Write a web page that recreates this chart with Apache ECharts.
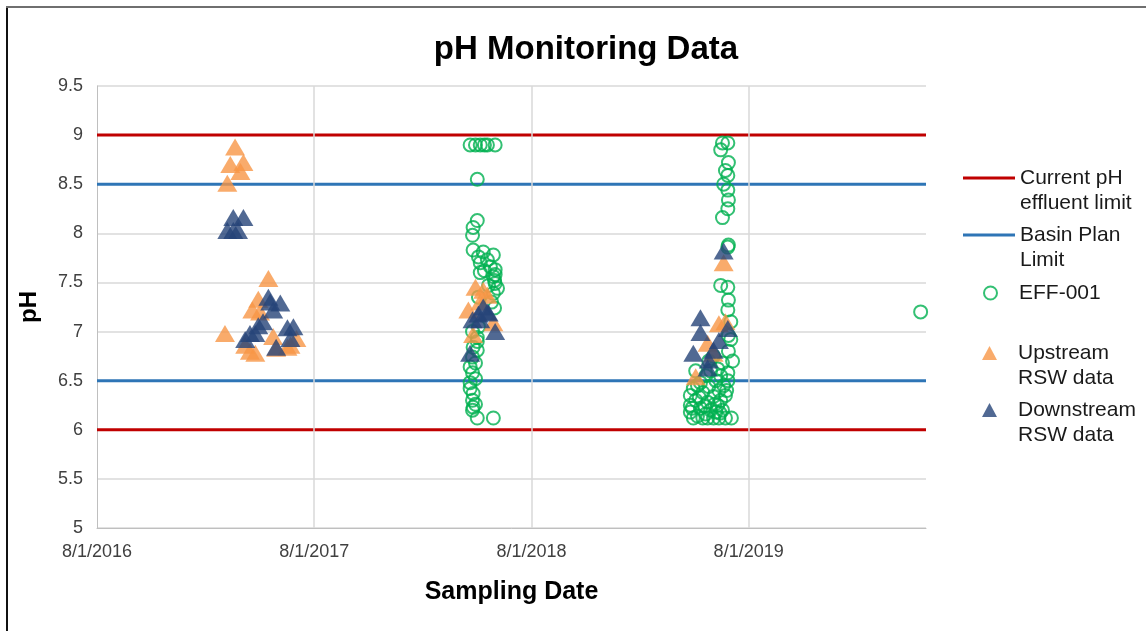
<!DOCTYPE html>
<html>
<head>
<meta charset="utf-8">
<script src="https://cdn.jsdelivr.net/npm/echarts@6/dist/echarts.min.js"></script>
<style>
html,body{margin:0;padding:0;background:#fff;}
#chart{width:1146px;height:631px;}
</style>
</head>
<body>
<div id="chart"></div>
<script>
// ---------- DATA ----------
const xMinDate = '2016-08-01';
const xMaxDate = '2020-05-25';
const xTickLabels = ['8/1/2016', '8/1/2017', '8/1/2018', '8/1/2019'];
const yMin = 5, yMax = 9.5, yStep = 0.5;

const effluentLimits = [9, 6];      // Current pH effluent limit
const basinPlanLimits = [8.5, 6.5]; // Basin Plan Limit

const effDates = [
  '2018-04-20','2018-04-29','2018-05-07','2018-05-14','2018-05-19','2018-06-01',
  '2018-05-02','2018-05-02','2018-04-25','2018-04-24','2018-04-25','2018-05-04',
  '2018-05-12','2018-05-29','2018-05-19','2018-05-07','2018-05-24','2018-06-01',
  '2018-05-14','2018-05-07','2018-06-01','2018-05-29','2018-05-31','2018-06-01',
  '2018-05-21','2018-06-05','2018-05-29','2018-05-04','2018-05-26','2018-05-31',
  '2018-05-04','2018-04-24','2018-05-02','2018-05-02','2018-04-25','2018-05-02',
  '2018-04-24','2018-04-29','2018-04-20','2018-04-24','2018-04-29','2018-04-20',
  '2018-04-20','2018-04-25','2018-04-24','2018-04-29','2018-04-25','2018-04-24',
  '2018-05-02','2018-05-29',
  '2019-06-18','2019-06-27','2019-06-15','2019-06-28','2019-06-23','2019-06-27',
  '2019-06-20','2019-06-27','2019-06-28','2019-06-27','2019-06-18','2019-06-28',
  '2019-06-27','2019-06-15','2019-06-27','2019-06-28','2019-06-27','2019-07-02',
  '2019-06-28','2019-07-02','2019-06-28','2019-07-05',
  '2019-04-25','2019-04-25','2019-04-25','2019-04-30','2019-04-30','2019-05-04',
  '2019-05-07','2019-05-12','2019-05-12','2019-05-16','2019-05-16','2019-05-21',
  '2019-05-21','2019-05-24','2019-05-24','2019-05-26','2019-05-29','2019-05-29',
  '2019-06-03','2019-06-03','2019-06-07','2019-06-07','2019-06-10','2019-06-10',
  '2019-06-12','2019-06-12','2019-06-15','2019-06-15','2019-06-18','2019-06-18',
  '2019-06-20','2019-06-23','2019-06-23','2019-06-27','2019-06-27','2019-07-03',
  '2019-05-04','2019-05-07','2019-06-03','2019-05-26',
  '2019-04-28','2019-05-10','2019-05-19','2019-06-05','2019-06-14','2019-06-25',
  '2020-05-16'
];
const effPH = [
  8.9, 8.9, 8.9, 8.9, 8.9, 8.9,
  8.55, 8.13, 8.06, 7.98, 7.83, 7.76,
  7.81, 7.78, 7.73, 7.70, 7.66, 7.63,
  7.62, 7.60, 7.58, 7.56, 7.52, 7.49,
  7.47, 7.44, 7.39, 7.35, 7.30, 7.24,
  7.05, 7.00, 6.94, 6.90, 6.84, 6.81,
  6.74, 6.68, 6.64, 6.58, 6.52, 6.48,
  6.42, 6.37, 6.30, 6.26, 6.23, 6.20,
  6.12, 6.12,
  8.92, 8.92, 8.85, 8.72, 8.64, 8.59,
  8.50, 8.44, 8.34, 8.25, 8.16, 7.88,
  7.86, 7.47, 7.45, 7.32, 7.22, 7.10,
  6.96, 6.92, 6.80, 6.70,
  6.35, 6.25, 6.18, 6.12, 6.42, 6.30,
  6.14, 6.48, 6.22, 6.12, 6.38, 6.55,
  6.16, 6.28, 6.12, 6.44, 6.20, 6.60,
  6.12, 6.34, 6.50, 6.18, 6.25, 6.62,
  6.12, 6.40, 6.55, 6.30, 6.20, 6.68,
  6.45, 6.35, 6.12, 6.58, 6.50, 6.12,
  6.60, 6.45, 6.75, 6.70,
  6.22, 6.33, 6.24, 6.26, 6.17, 6.40,
  7.2
];

const upDates = [
  '2017-03-21','2017-03-13','2017-04-04','2017-03-30','2017-03-08',
  '2017-03-04','2017-05-16','2017-04-29','2017-04-19','2017-05-02','2017-04-07',
  '2017-04-24','2017-04-15','2017-05-29','2017-06-17','2017-07-02','2017-06-22','2017-05-24',
  '2018-04-29','2018-05-12','2018-04-17','2018-04-25','2018-05-29','2018-05-19','2018-05-07',
  '2019-06-12','2019-05-24','2019-05-04','2019-06-23','2019-06-03','2019-06-20'
];
const upPH = [
  8.88, 8.70, 8.72, 8.63, 8.51,
  6.98, 7.54, 7.33, 7.22, 7.20, 6.86,
  6.78, 6.80, 6.83, 6.84, 6.93, 6.86, 6.95,
  7.45, 7.42, 7.22, 6.97, 7.09, 7.37, 7.30,
  7.08, 6.88, 6.54, 7.10, 6.78, 7.70
];

const downDates = [
  '2017-03-18','2017-04-04','2017-03-08','2017-03-26','2017-03-18',
  '2017-05-16','2017-06-05','2017-05-24','2017-05-07','2017-04-15','2017-04-24',
  '2017-04-07','2017-06-17','2017-06-27','2017-06-22','2017-05-29','2017-05-19','2017-04-29',
  '2018-05-12','2018-05-04','2018-04-24','2018-05-21','2018-06-01','2018-04-20','2018-05-07','2018-05-19',
  '2019-05-12','2019-05-12','2019-04-30','2019-06-27','2019-06-12','2019-06-03','2019-05-26','2019-05-24','2019-06-20'
];
const downPH = [
  8.16, 8.16, 8.03, 8.03, 8.03,
  7.35, 7.29, 7.22, 7.10, 6.98, 6.98,
  6.92, 7.04, 7.05, 6.93, 6.84, 7.30, 7.06,
  7.25, 7.18, 7.12, 7.19, 7.00, 6.78, 7.12, 7.20,
  7.14, 6.99, 6.78, 7.03, 6.91, 6.81, 6.71, 6.63, 7.82
];

// ---------- HELPERS ----------
const DAY = 86400000;
const t0 = Date.parse(xMinDate);
function dayNum(s) { return Math.round((Date.parse(s) - t0) / DAY); }
function pairs(dates, vals) { return dates.map((d, i) => [dayNum(d), vals[i]]); }
const xMaxDay = dayNum(xMaxDate);
const tickDays = xTickLabels.map((_, i) => i * 365);

const NAME_CUR = 'Current pH effluent limit';
const NAME_BASIN = 'Basin Plan Limit';
const NAME_EFF = 'EFF-001';
const NAME_UP = 'Upstream RSW data';
const NAME_DOWN = 'Downstream RSW data';
const legendText = {
  [NAME_CUR]: ' \nCurrent pH\neffluent limit',
  [NAME_BASIN]: ' \nBasin Plan\nLimit',
  [NAME_EFF]: 'EFF-001',
  [NAME_UP]: ' \nUpstream\nRSW data',
  [NAME_DOWN]: ' \nDownstream\nRSW data'
};

const RED = '#C00000', BLUE = '#2E75B6', GREEN = '#00B050', ORANGE = '#F79646', NAVY = '#264478';
const FONT = "'Liberation Sans', Arial, sans-serif";

function refLine(name, v, color) {
  return {
    name: name, type: 'line', data: [[0, v], [xMaxDay, v]],
    symbol: 'none', silent: true, z: 2,
    lineStyle: { color: color, width: 3 }, itemStyle: { color: color }
  };
}
function legendFor(name, left, top, w, h, padLeft, icon) {
  const lg = {
    data: [name], left: left, top: top, orient: 'vertical', padding: 0,
    itemWidth: w, itemHeight: h, selectedMode: false,
    formatter: n => legendText[n],
    textStyle: { fontFamily: FONT, fontSize: 21, color: '#1a1a1a', lineHeight: 25, padding: [0, 0, 0, padLeft] }
  };
  if (icon) lg.icon = icon;
  return lg;
}

const chart = echarts.init(document.getElementById('chart'), null, { renderer: 'canvas' });
chart.setOption({
  animation: false,
  backgroundColor: '#fff',
  title: {
    text: 'pH Monitoring Data', left: 581, top: 28, textAlign: 'center',
    textStyle: { fontFamily: FONT, fontSize: 33, fontWeight: 'bold', color: '#000' }
  },
  grid: { left: 97, top: 86, right: 1146 - 926, bottom: 631 - 528 },
  xAxis: {
    type: 'value', min: 0, max: xMaxDay, interval: 365,
    name: 'Sampling Date', nameLocation: 'middle', nameGap: 52,
    nameTextStyle: { fontFamily: FONT, fontSize: 25, fontWeight: 'bold', color: '#000' },
    axisLine: { show: true, lineStyle: { color: '#bfbfbf', width: 1 } },
    axisTick: { show: false },
    splitLine: { show: false },
    axisLabel: {
      fontFamily: FONT, fontSize: 18, color: '#404040', margin: 15,
      showMaxLabel: false,
      formatter: v => (v % 365 === 0 && xTickLabels[v / 365]) ? xTickLabels[v / 365] : ''
    }
  },
  yAxis: {
    type: 'value', min: yMin, max: yMax, interval: yStep,
    name: 'pH', nameLocation: 'middle', nameGap: 56, nameRotate: 90,
    nameTextStyle: { fontFamily: FONT, fontSize: 24, fontWeight: 'bold', color: '#000' },
    axisLine: { show: true, lineStyle: { color: '#bfbfbf', width: 1 } },
    axisTick: { show: false },
    splitLine: { show: true, lineStyle: { color: '#d9d9d9', width: 1.5 } },
    axisLabel: { fontFamily: FONT, fontSize: 18, color: '#404040', margin: 14 }
  },
  legend: [
    legendFor(NAME_CUR, 963, 140.5, 52, 3, 0, 'rect'),
    legendFor(NAME_BASIN, 963, 197.5, 52, 3, 0, 'rect'),
    legendFor(NAME_EFF, 983, 280.5, 13, 13, 17),
    legendFor(NAME_UP, 982, 315.5, 15, 14, 16),
    legendFor(NAME_DOWN, 982, 372.5, 15, 14, 16)
  ],
  graphic: [
    { type: 'line', shape: { x1: 7, y1: 631, x2: 7, y2: 7 }, style: { stroke: '#111', lineWidth: 2 }, z: 100 },
    { type: 'line', shape: { x1: 6, y1: 7, x2: 1146, y2: 7 }, style: { stroke: '#6f6f6f', lineWidth: 2 }, z: 100 }
  ],
  series: [
    {
      name: 'grid-x', type: 'line', data: [], z: 1, silent: true,
      markLine: {
        silent: true, symbol: 'none', label: { show: false },
        lineStyle: { color: '#d9d9d9', width: 1.5, type: 'solid' },
        data: tickDays.filter(d => d > 0).map(d => ({ xAxis: d }))
      }
    },
    refLine(NAME_CUR, effluentLimits[0], RED),
    refLine(NAME_CUR, effluentLimits[1], RED),
    refLine(NAME_BASIN, basinPlanLimits[0], BLUE),
    refLine(NAME_BASIN, basinPlanLimits[1], BLUE),
    {
      name: NAME_EFF, type: 'scatter', data: pairs(effDates, effPH), z: 3,
      symbol: 'circle', symbolSize: 13,
      itemStyle: { color: 'rgba(255,255,255,0)', borderColor: GREEN, borderWidth: 2 }
    },
    {
      name: NAME_UP, type: 'scatter', data: pairs(upDates, upPH), z: 3,
      symbol: 'triangle', symbolSize: [20, 17],
      itemStyle: { color: ORANGE }
    },
    {
      name: NAME_DOWN, type: 'scatter', data: pairs(downDates, downPH), z: 3,
      symbol: 'triangle', symbolSize: [20, 17],
      itemStyle: { color: NAVY }
    }
  ]
});
</script>
</body>
</html>
